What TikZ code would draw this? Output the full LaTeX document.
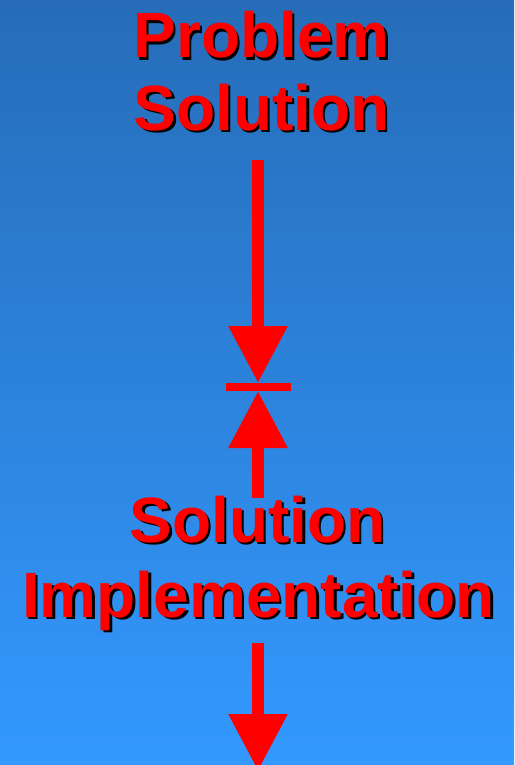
\documentclass[tikz,border=0pt]{standalone}
\usepackage{fontspec}
\setmainfont{Liberation Sans}
\usetikzlibrary{arrows.meta}
\definecolor{bgtop}{RGB}{38,108,184}
\definecolor{bgbot}{RGB}{51,153,255}
\definecolor{tred}{RGB}{255,0,0}
\tikzset{
  redtxt/.style={inner sep=0pt, anchor=base, text=tred, font=\fontsize{64}{75}\selectfont\bfseries},
  shadowtxt/.style={inner sep=0pt, anchor=base, text=black, font=\fontsize{64}{75}\selectfont\bfseries},
  bigarrow/.style={draw=tred, line width=12pt, -{Triangle[width=56pt,length=57pt]}},
  barline/.style={draw=tred, line width=8pt}
}
\begin{document}
\begin{tikzpicture}[x=1pt,y=-1pt]
\useasboundingbox (0,0) rectangle (514,765);
\shade[top color=bgtop, bottom color=bgbot] (0,0) rectangle (514,765);
% texts with shadows
\node[shadowtxt] at (264,60.5) {Problem};
\node[redtxt] (prob) at (261.5,58) {Problem};
\node[shadowtxt] at (264,132.5) {Solution};
\node[redtxt] (sol1) at (261.5,130) {Solution};
\node[shadowtxt] at (260,544.5) {Solution};
\node[redtxt] (sol2) at (257.5,542) {Solution};
\node[shadowtxt] at (261,619.5) {Implementation};
\node[redtxt] (impl) at (258.5,617) {Implementation};
% connector points
\coordinate (a1s) at (258,160);
\coordinate (a1e) at (258,383);
\coordinate (a2s) at (258,498);
\coordinate (a2e) at (258,391);
\coordinate (a3s) at (258,643);
\coordinate (a3e) at (258,771);
\coordinate (barl) at (226,387);
\coordinate (barr) at (291,387);
\draw[bigarrow] (a1s) -- (a1e);
\draw[bigarrow] (a2s) -- (a2e);
\draw[bigarrow] (a3s) -- (a3e);
\draw[barline] (barl) -- (barr);
\end{tikzpicture}
\end{document}
